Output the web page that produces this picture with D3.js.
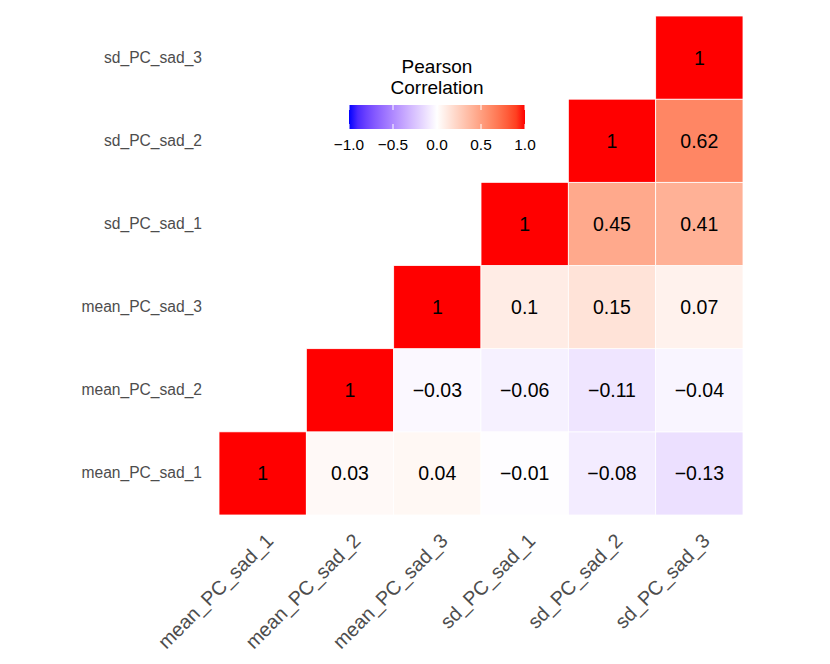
<!DOCTYPE html>
<html lang="en">
<head>
<meta charset="UTF-8">
<script src="https://cdn.jsdelivr.net/npm/d3@7/dist/d3.min.js"></script>
<title>Pearson Correlation</title>
<style>
    body, html{
        margin: 0;
        padding: 0;
        background: #fff;
    }
    text{
        font-family: "Liberation Sans", Arial, Helvetica, sans-serif;
    }
</style>
</head>
<body>
<div id="chart"></div>
<script>

// variables, bottom row / left column first
const variables = ["mean_PC_sad_1", "mean_PC_sad_2", "mean_PC_sad_3", "sd_PC_sad_1", "sd_PC_sad_2", "sd_PC_sad_3"]

// upper triangle of the correlation matrix, row i starts at column i
const corr_rows = [
    [1, 0.03, 0.04, -0.01, -0.08, -0.13],
    [1, -0.03, -0.06, -0.11, -0.04],
    [1, 0.1, 0.15, 0.07],
    [1, 0.45, 0.41],
    [1, 0.62],
    [1]
]

const legend_ticks = [-1, -0.5, 0, 0.5, 1]
const legend_title = ["Pearson", "Correlation"]

const width = 830, height = 664

// cells
let cells = []
corr_rows.forEach((row, i) => {
    row.forEach((v, k) => {
        cells.push({ row: variables[i], col: variables[i + k], value: v })
    })
})

const svg = d3.select("#chart").append("svg").attr("width", width).attr("height", height)

const x = d3.scaleBand().domain(variables).range([219, 743])
const y = d3.scaleBand().domain(variables).range([515, 16])

const color = d3.scaleLinear().domain([-1, 0, 1]).range(["blue", "white", "red"]).interpolate(d3.interpolateLab)

const fmt = v => (v < 0 ? "\u2212" : "") + Math.abs(v)

// tiles
svg.append("g").selectAll("rect").data(cells).enter().append("rect")
    .attr("x", d => x(d.col)).attr("y", d => y(d.row))
    .attr("width", x.bandwidth()).attr("height", y.bandwidth())
    .attr("fill", d => color(d.value))
    .attr("stroke", "#fff").attr("stroke-width", 0.8)

// cell labels
svg.append("g").selectAll("text").data(cells).enter().append("text")
    .attr("x", d => x(d.col) + x.bandwidth() / 2)
    .attr("y", d => y(d.row) + y.bandwidth() / 2)
    .attr("dy", "0.36em")
    .attr("text-anchor", "middle")
    .attr("font-size", 19.5)
    .attr("fill", "#000")
    .text(d => fmt(d.value))

// y axis
const yAxis = svg.append("g").attr("transform", "translate(219,0)")
    .call(d3.axisLeft(y).tickSize(0).tickPadding(17))
yAxis.select(".domain").remove()
yAxis.selectAll("text").attr("font-size", 15.6).attr("fill", "#4d4d4d")
    .attr("font-family", "Liberation Sans, Arial, sans-serif")

// x axis, rotated labels
const xAxis = svg.append("g").attr("transform", "translate(0,533)")
    .call(d3.axisBottom(x).tickSize(0).tickPadding(0))
xAxis.select(".domain").remove()
xAxis.selectAll("text")
    .attr("font-size", 19.8).attr("fill", "#4d4d4d")
    .attr("font-family", "Liberation Sans, Arial, sans-serif")
    .attr("text-anchor", "end")
    .attr("x", 2).attr("y", 0).attr("dy", "0.74em")
    .attr("transform", "rotate(-45)")

// legend
const lx = d3.scaleLinear().domain([-1, 1]).range([349, 525])
const lg = svg.append("g")

const grad = svg.append("defs").append("linearGradient").attr("id", "grad")
    .attr("x1", "0%").attr("x2", "100%").attr("y1", "0%").attr("y2", "0%")
grad.selectAll("stop").data(d3.range(0, 1.0001, 0.05)).enter().append("stop")
    .attr("offset", d => (d * 100) + "%")
    .attr("stop-color", d => color(-1 + 2 * d))

lg.append("rect").attr("x", lx(-1)).attr("y", 105)
    .attr("width", lx(1) - lx(-1)).attr("height", 24)
    .attr("fill", "url(#grad)")

lg.selectAll("line.t1").data(legend_ticks).enter().append("line")
    .attr("x1", d => lx(d)).attr("x2", d => lx(d)).attr("y1", 105).attr("y2", 110)
    .attr("stroke", "#fff").attr("stroke-width", 1)
lg.selectAll("line.t2").data(legend_ticks).enter().append("line")
    .attr("x1", d => lx(d)).attr("x2", d => lx(d)).attr("y1", 124).attr("y2", 129)
    .attr("stroke", "#fff").attr("stroke-width", 1)

lg.selectAll("text.tick").data(legend_ticks).enter().append("text")
    .attr("x", d => lx(d)).attr("y", 150)
    .attr("text-anchor", "middle").attr("font-size", 15.4).attr("fill", "#000")
    .text(d => (d < 0 ? "\u2212" : "") + Math.abs(d).toFixed(1))

lg.selectAll("text.title").data(legend_title).enter().append("text")
    .attr("x", 437).attr("y", (d, i) => 73 + i * 20.5)
    .attr("text-anchor", "middle").attr("font-size", 19).attr("fill", "#000")
    .text(d => d)

</script>
</body>
</html>
